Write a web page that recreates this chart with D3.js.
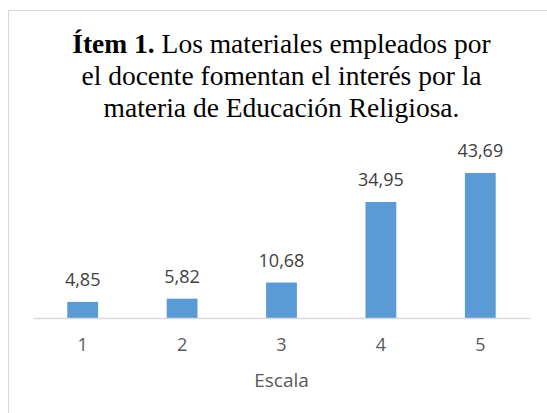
<!DOCTYPE html>
<html lang="es">
<head>
    <meta charset="UTF-8">
    <script src="https://d3js.org/d3.v7.min.js"></script>
    <style>
        body { margin: 0; background: #fff; }
    </style>
</head>
<body>
    <svg width="547" height="413"></svg>

    <script>
        let categories = ["1", "2", "3", "4", "5"];
        let values = [4.85, 5.82, 10.68, 34.95, 43.69];
        let titleLines = [
            [{ t: "Ítem 1.", bold: true }, { t: " Los materiales empleados por", bold: false }],
            [{ t: "el docente fomentan el interés por la", bold: false }],
            [{ t: "materia de Educación Religiosa.", bold: false }]
        ];
        let axisTitle = "Escala";

        let svg = d3.select("svg");

        // chart frame, runs off the right and bottom edges like the screenshot
        svg.append("rect")
            .attr("x", 8.5).attr("y", 10.5)
            .attr("width", 560).attr("height", 420)
            .attr("fill", "#fff")
            .attr("stroke", "#d9d9d9");

        let cx = 281.5;

        // title
        let title = svg.append("text")
            .attr("text-anchor", "middle")
            .attr("font-family", "'Liberation Serif', 'Times New Roman', serif")
            .attr("font-size", 27.5)
            .attr("fill", "#000");
        titleLines.forEach((line, i) => {
            let tl = title.append("tspan")
                .attr("x", cx)
                .attr("y", 53 + i * 32);
            line.forEach(part => {
                tl.append("tspan")
                    .attr("font-weight", part.bold ? "bold" : "normal")
                    .text(part.t);
            });
        });

        let plotLeft = 33, plotRight = 530, baseY = 318;

        let x = d3.scaleBand()
            .domain(categories)
            .range([plotLeft, plotRight])
            .paddingInner(0.69)
            .paddingOuter(0.345);

        let y = d3.scaleLinear()
            .domain([0, 50])
            .range([baseY, baseY - 166]);

        let g = svg.append("g");

        g.selectAll("rect.bar")
            .data(values)
            .enter()
            .append("rect")
            .attr("class", "bar")
            .attr("x", (d, i) => x(categories[i]))
            .attr("y", d => y(d))
            .attr("width", x.bandwidth())
            .attr("height", d => baseY - y(d))
            .attr("fill", "#5b9bd5");

        // value labels
        g.selectAll("text.val")
            .data(values)
            .enter()
            .append("text")
            .attr("class", "val")
            .attr("x", (d, i) => x(categories[i]) + x.bandwidth() / 2)
            .attr("y", d => y(d) - 16)
            .attr("text-anchor", "middle")
            .attr("font-family", "'Open Sans', sans-serif")
            .attr("font-size", 18)
            .attr("fill", "#404040")
            .text(d => d.toFixed(2).replace(".", ","));

        // x axis
        let xAxis = d3.axisBottom(
            d3.scaleBand().domain(categories).range([plotLeft, plotRight])
        ).tickSize(0).tickPadding(20);

        let ax = svg.append("g")
            .attr("transform", "translate(0," + baseY + ")")
            .call(xAxis);
        ax.select(".domain").attr("stroke", "#d9d9d9").attr("stroke-width", 1.3);
        ax.selectAll(".tick text")
            .attr("font-family", "'Open Sans', sans-serif")
            .attr("font-size", 18)
            .attr("fill", "#595959");

        svg.append("text")
            .attr("x", cx)
            .attr("y", 387)
            .attr("text-anchor", "middle")
            .attr("font-family", "'Open Sans', sans-serif")
            .attr("font-size", 19)
            .attr("fill", "#595959")
            .text(axisTitle);
    </script>
</body>
</html>
